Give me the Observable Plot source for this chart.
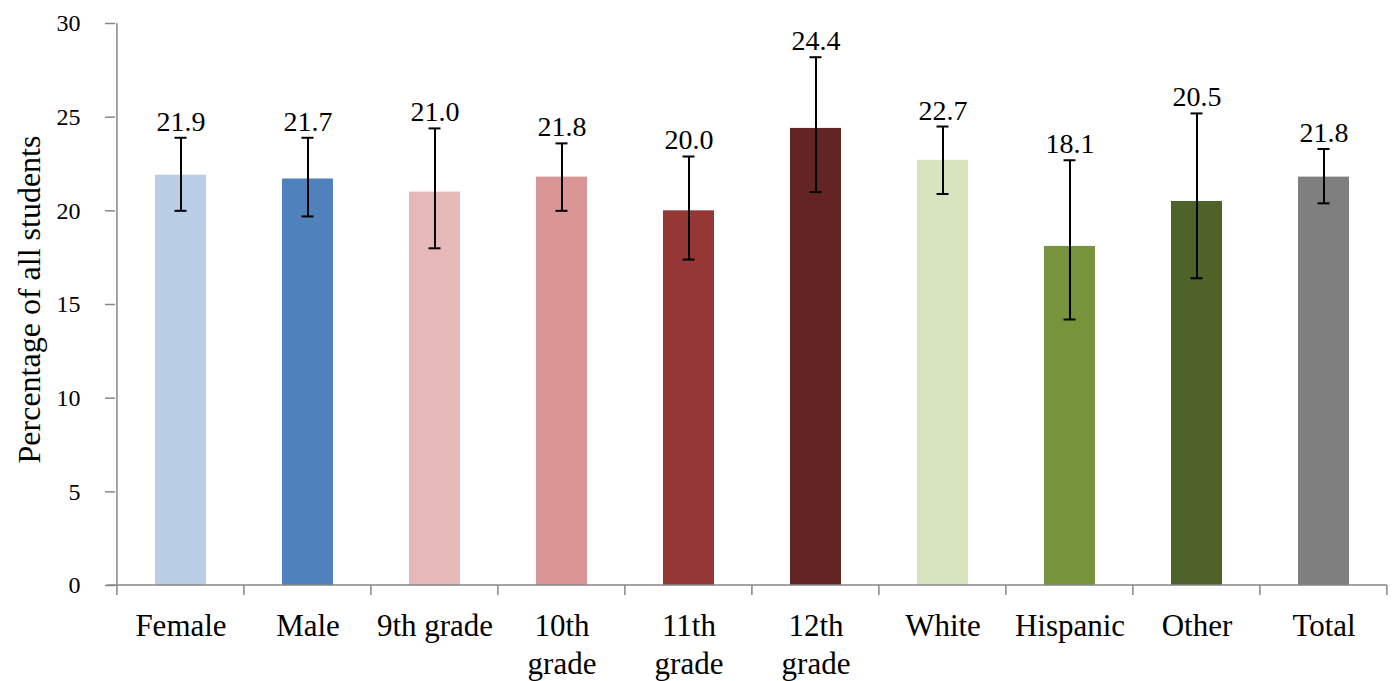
<!DOCTYPE html>
<html>
<head>
<meta charset="utf-8">
<script src="https://cdn.jsdelivr.net/npm/d3@7"></script>
<script src="https://cdn.jsdelivr.net/npm/@observablehq/plot@0.6"></script>
<style>
  html, body { margin: 0; padding: 0; background: #fff; }
  #chart svg { display: block; }
</style>
</head>
<body>
<div id="chart"></div>
<script>
const categories = ["Female", "Male", "9th grade", "10th grade", "11th grade", "12th grade", "White", "Hispanic", "Other", "Total"];
const tickLabels = ["Female", "Male", "9th grade", "10th\ngrade", "11th\ngrade", "12th\ngrade", "White", "Hispanic", "Other", "Total"];
const values = [21.9, 21.7, 21.0, 21.8, 20.0, 24.4, 22.7, 18.1, 20.5, 21.8];
const errLow = [20.0, 19.7, 18.0, 20.0, 17.4, 21.0, 20.9, 14.2, 16.4, 20.4];
const errHigh = [23.9, 23.9, 24.4, 23.6, 22.9, 28.2, 24.5, 22.7, 25.2, 23.3];
const colors = ["#B9CDE5", "#4F81BD", "#E6B9B8", "#D99694", "#953735", "#632523", "#D7E4BD", "#77933C", "#4F6228", "#7F7F7F"];
const yTicks = [0, 5, 10, 15, 20, 25, 30];
const yTitle = "Percentage of all students";

const data = categories.map((c, i) => ({cat: c, value: values[i], lo: errLow[i], hi: errHigh[i], color: colors[i]}));
const labelOf = new Map(categories.map((c, i) => [c, tickLabels[i]]));

const axisGray = "#868686";

// axis lines and category boundary ticks
function axisFrame(index, scales, values, dims) {
  const {x, y} = scales;
  const step = x(categories[1]) - x(categories[0]);
  const bw = step * 0.4;
  const left = x(categories[0]) + bw / 2 - step / 2;
  const right = x(categories[categories.length - 1]) + bw / 2 + step / 2;
  const y0 = y(0), yTop = y(30);
  const g = d3.create("svg:g").attr("stroke", axisGray).attr("stroke-width", 1.5).attr("fill", "none");
  g.append("line").attr("x1", left).attr("x2", left).attr("y1", yTop).attr("y2", y0 + 10);
  g.append("line").attr("x1", left - 10).attr("x2", right).attr("y1", y0).attr("y2", y0);
  for (let i = 1; i <= categories.length; i++) {
    const bx = left + i * step;
    g.append("line").attr("x1", bx).attr("x2", bx).attr("y1", y0).attr("y2", y0 + 10);
  }
  return g.node();
}

const chart = Plot.plot({
  width: 1397,
  height: 681,
  marginLeft: 115,
  marginRight: 8,
  marginTop: 23,
  marginBottom: 96,
  style: {fontFamily: "'Liberation Serif', serif", fontSize: "24px", color: "#000", background: "#fff"},
  x: {domain: categories, paddingInner: 0.6, paddingOuter: 0.3, label: null},
  y: {domain: [0, 30], label: null},
  marks: [
    Plot.barY(data, {x: "cat", y: "value", fill: "color"}),
    Plot.ruleX(data, {x: "cat", y1: "lo", y2: "hi", stroke: "#000", strokeWidth: 2}),
    Plot.tickY(data, {x: "cat", y: "hi", stroke: "#000", strokeWidth: 2, insetLeft: 19.5, insetRight: 19.5}),
    Plot.tickY(data, {x: "cat", y: "lo", stroke: "#000", strokeWidth: 2, insetLeft: 19.5, insetRight: 19.5}),
    Plot.text(data, {x: "cat", y: "hi", text: d => d.value.toFixed(1), dy: -16, fontSize: 28, fill: "#000"}),
    Plot.axisY({ticks: yTicks, tickSize: 10, tickPadding: 25, stroke: axisGray, strokeWidth: 1.5, fontSize: 24, label: null}),
    Plot.text([yTitle], {frameAnchor: "left", text: d => d, textAnchor: "middle", rotate: -90, dx: -86, dy: -5, fontSize: 32, fill: "#000"}),
    Plot.axisX({tickSize: 0, tickPadding: 23, fontSize: 31, lineHeight: 1.24, tickFormat: d => labelOf.get(d), label: null}),
    axisFrame
  ]
});
document.getElementById("chart").appendChild(chart);
</script>
</body>
</html>
